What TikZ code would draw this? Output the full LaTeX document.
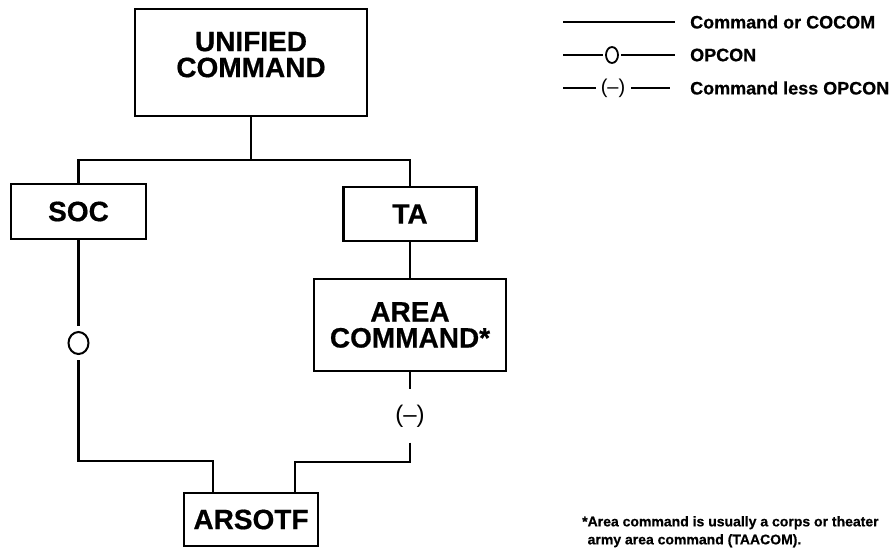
\documentclass[tikz,border=0pt]{standalone}
\usepackage{fontspec}
\setmainfont{Liberation Sans}[BoldFeatures={FakeBold=0.6}]
\usetikzlibrary{shapes.geometric}
\begin{document}
\begin{tikzpicture}[x=1pt,y=-1pt,
 box/.style={draw,line width=2.6pt,inner sep=0pt,align=center,font=\bfseries\fontsize{28}{26}\selectfont},
 conn/.style={line width=2.8pt},
 leg/.style={line width=2pt},
 legtext/.style={anchor=west,inner sep=0pt,font=\bfseries\fontsize{18}{20}\selectfont},
 opc/.style={ellipse,draw,inner sep=0pt},
]
\useasboundingbox (0,0) rectangle (892,555);
% boxes
\node[box,minimum width=232,minimum height=107,text depth=16pt] (uc) at (251,62.5) {UNIFIED\\COMMAND};
\node[box,minimum width=135,minimum height=55] (soc) at (78.5,211.5) {SOC};
\node[box,minimum width=133,minimum height=54] (ta) at (410,214) {TA};
\node[box,minimum width=192,minimum height=92] (area) at (410,325) {AREA\\COMMAND*};
\node[box,minimum width=134,minimum height=53] (ars) at (251,519.5) {ARSOTF};
% connectors
\coordinate (bus) at (251,160);
\draw[conn] (soc.north) |- (bus) -| (ta.north);
\draw[conn] (uc.south) -- (bus);
\draw[conn] (ta.south) -- (area.north);
\node[opc,line width=2pt,minimum width=20,minimum height=22,outer sep=6pt] (opcon) at (78.5,343) {};
\draw[conn] (soc.south) -- (opcon.north);
\coordinate (jl) at (213,461);
\draw[conn] (opcon.south) |- (jl) -- (jl |- ars.north);
\node[inner sep=0pt,minimum height=53,font=\fontsize{24}{24}\selectfont] (less) at (410,416) {(–)};
\draw[conn] (area.south) -- (less.north);
\coordinate (jr) at (295,462);
\draw[conn] (less.south) |- (jr) -- (jr |- ars.north);
% legend
\node[legtext] (l1) at (690,22) {Command or COCOM};
\node[legtext] (l2) at (690,55) {OPCON};
\node[legtext] (l3) at (690,88) {Command less OPCON};
\coordinate (a1) at (563,22);
\draw[leg] (a1) -- ([xshift=-15pt]l1.west);
\coordinate (a2) at (563,55);
\node[opc,line width=1.8pt,minimum width=12,minimum height=16,outer sep=3pt] (o2) at (612,55) {};
\draw[leg] (a2) -- (o2.west);
\draw[leg] (o2.east) -- ([xshift=-15pt]l2.west);
\coordinate (a3) at (563,88);
\node[inner sep=0pt,font=\fontsize{20}{20}\selectfont] (p3) at (613,88) {(–)};
\draw[leg] (a3) -- ([xshift=-5pt]p3.west);
\draw[leg] ([xshift=6pt]p3.east) -- ([xshift=-20pt]l3.west);
% footnote
\node[anchor=north west,inner sep=0pt,align=left,font=\bfseries\fontsize{14}{18}\selectfont] (note) at (582,516) {*Area command is usually a corps or theater\\\phantom{*}army area command (TAACOM).};
\end{tikzpicture}
\end{document}
